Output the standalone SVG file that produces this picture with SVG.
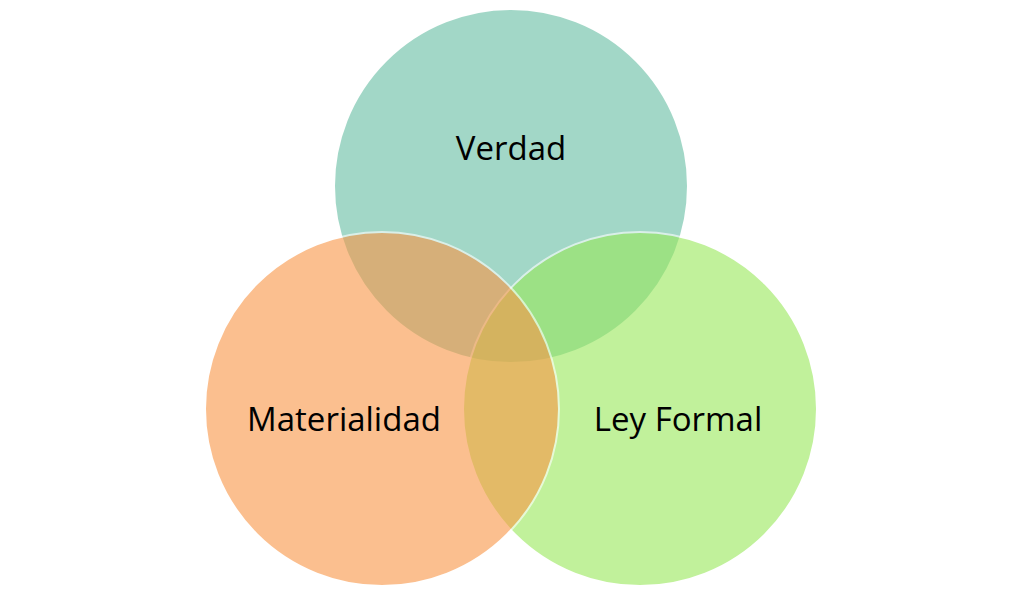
<svg xmlns="http://www.w3.org/2000/svg" width="1024" height="596" viewBox="0 0 1024 596">
<style>
.c{stroke:#ffffff;stroke-width:2;opacity:0.6}
.t{font-family:"Open Sans","Noto Sans",sans-serif;font-size:33px;fill:#000;text-anchor:middle}
</style>
<rect width="1024" height="596" fill="#ffffff"/>
<g id="verdad"><circle class="c" cx="511" cy="186" r="177" fill="#66bea3"/></g>
<g id="leyformal"><circle class="c" cx="640" cy="409" r="177" fill="#99e85a"/></g>
<g id="materialidad"><circle class="c" cx="382" cy="409" r="177" fill="#fa9646"/></g>
<g id="connectors"></g>
<text class="t" x="511" y="160">Verdad</text>
<text class="t" x="344" y="431">Materialidad</text>
<text class="t" x="678" y="431">Ley Formal</text>
</svg>
